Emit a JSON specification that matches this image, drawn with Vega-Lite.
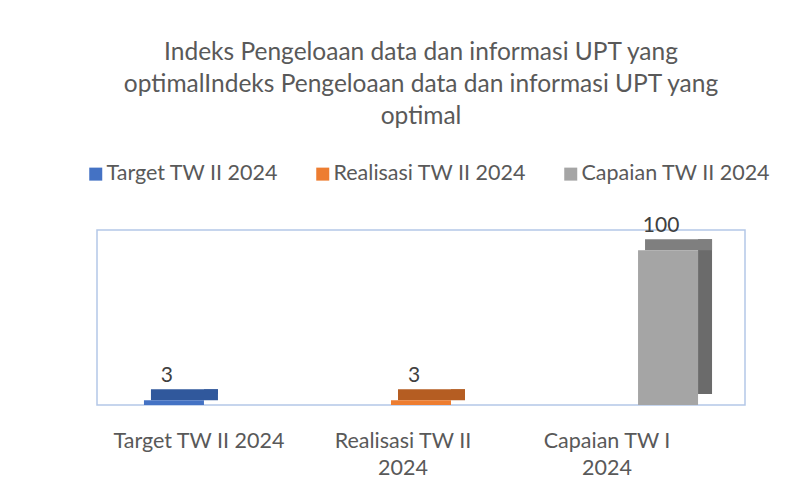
{
  "$schema": "https://vega.github.io/schema/vega-lite/v6.json",
  "autosize": "none",
  "width": 648,
  "height": 175,
  "padding": {"left": 97, "top": 230, "right": 43, "bottom": 99},
  "background": "white",
  "title": {
    "text": ["Indeks Pengeloaan data dan informasi UPT yang", "optimalIndeks Pengeloaan data dan informasi UPT yang", "optimal"],
    "font": "Lato",
    "fontSize": 24.5,
    "fontWeight": "normal",
    "color": "#595959",
    "lineHeight": 32,
    "anchor": "middle",
    "frame": "group",
    "offset": 34
  },
  "data": {
    "values": [
      {"kategori": "Target TW II 2024", "seri": "Target TW II 2024", "nilai": 3},
      {"kategori": "Realisasi TW II|2024", "seri": "Realisasi TW II 2024", "nilai": 3},
      {"kategori": "Capaian TW I|2024", "seri": "Capaian TW II 2024", "nilai": 100}
    ]
  },
  "encoding": {
    "x": {
      "field": "kategori",
      "type": "nominal",
      "sort": null,
      "scale": {"paddingInner": 0.377, "paddingOuter": 0},
      "axis": {
        "title": null,
        "labelAngle": 0,
        "labelExpr": "split(datum.value, '|')",
        "labelFont": "Lato",
        "labelFontSize": 21.5,
        "labelColor": "#595959",
        "labelPadding": 25,
        "labelLineHeight": 27,
        "labelBaseline": "top",
        "labelOffset": {
          "condition": [
            {"test": "datum.value === 'Target TW II 2024'", "value": 25},
            {"test": "datum.value === 'Capaian TW I|2024'", "value": -61}
          ],
          "value": -18
        },
        "domain": false,
        "ticks": false
      }
    },
    "y": {
      "field": "nilai",
      "type": "quantitative",
      "scale": {"domain": [0, 113], "nice": false},
      "axis": null
    }
  },
  "layer": [
    {
      "mark": {"type": "bar", "width": 14, "xOffset": 37, "yOffset": -11, "y2Offset": -7},
      "encoding": {
        "color": {
          "field": "seri",
          "type": "nominal",
          "sort": null,
          "scale": {"range": ["#2b4f8f", "#a8561f", "#6b6b6b"]},
          "legend": null
        }
      }
    },
    {
      "mark": {"type": "bar", "width": 67, "xOffset": 10.5, "yOffset": -11},
      "encoding": {
        "y2": {"field": "nilai"},
        "color": {
          "field": "seri",
          "type": "nominal",
          "sort": null,
          "scale": {"range": ["#30589c", "#b55d22", "#7f7f7f"]},
          "legend": null
        }
      }
    },
    {
      "mark": {"type": "bar", "width": 60},
      "encoding": {
        "color": {
          "field": "seri",
          "type": "nominal",
          "sort": null,
          "scale": {"range": ["#4472c4", "#ed7d31", "#a5a5a5"]},
          "legend": {
            "title": null,
            "orient": "none",
            "direction": "horizontal",
            "legendX": -12,
            "legendY": -67,
            "symbolType": "square",
            "symbolSize": 169,
            "symbolStrokeWidth": 0,
            "labelFont": "Lato",
            "labelFontSize": 21.5,
            "labelColor": "#595959",
            "labelLimit": 0,
            "columnPadding": 33,
            "labelOffset": 0
          }
        }
      }
    },
    {
      "mark": {"type": "text", "baseline": "alphabetic", "dy": -18, "xOffset": -7, "font": "Lato", "fontSize": 21, "color": "#404040"},
      "encoding": {"text": {"field": "nilai", "type": "quantitative"}}
    }
  ],
  "resolve": {"scale": {"color": "independent"}},
  "config": {
    "view": {"stroke": "#b4c7e7", "strokeWidth": 1.5}
  }
}
